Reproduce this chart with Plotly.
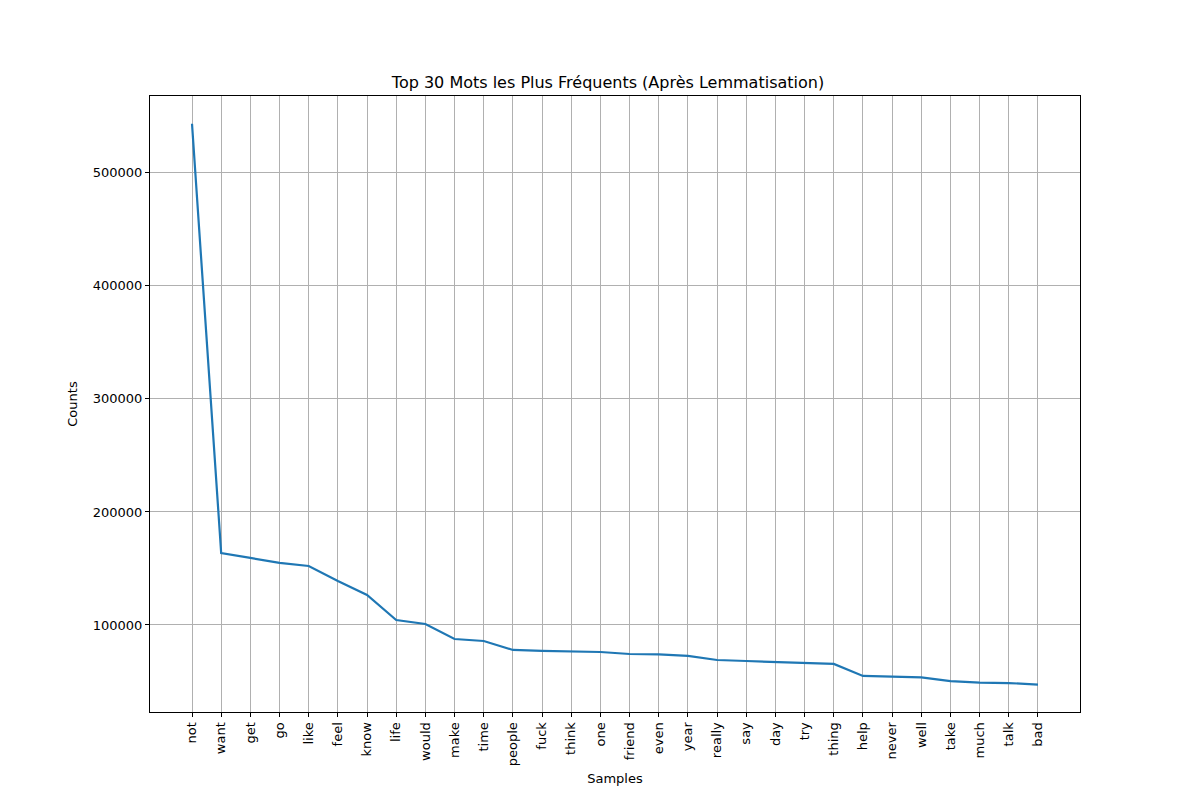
import plotly.graph_objects as go

words = ["not", "want", "get", "go", "like", "feel", "know", "life", "would", "make",
         "time", "people", "fuck", "think", "one", "friend", "even", "year", "really", "say",
         "day", "try", "thing", "help", "never", "well", "take", "much", "talk", "bad"]
counts = [543400, 163700, 159300, 154900, 152200, 138900, 126500, 104400, 100900, 87600,
          85800, 77900, 77000, 76500, 76100, 74300, 73900, 72600, 69000, 68100,
          67300, 66400, 65500, 54900, 54000, 53600, 50400, 49000, 48600, 47300]

positions = list(range(len(words)))

fig = go.Figure()
fig.add_trace(go.Scatter(
    x=positions,
    y=counts,
    mode="lines",
    line=dict(color="#1f77b4", width=2.2),
))

axis_common = dict(
    showline=True, linecolor="black", linewidth=1, mirror=True,
    ticks="outside", ticklen=4, tickcolor="black",
    showgrid=True, gridcolor="#b0b0b0", gridwidth=1, zeroline=False,
    tickfont=dict(size=13, color="black"),
)

fig.update_layout(
    title=dict(text="Top 30 Mots les Plus Fréquents (Après Lemmatisation)",
               x=0.5, xanchor="center", y=0.9075, yanchor="middle",
               font=dict(size=16, color="black")),
    width=1200, height=800,
    plot_bgcolor="white", paper_bgcolor="white",
    font=dict(family="DejaVu Sans", color="black"),
    showlegend=False,
    margin=dict(l=142, r=128, t=88, b=96),
    xaxis=dict(axis_common, tickmode="array", tickvals=positions, ticktext=words,
               tickangle=-90, range=[-1.44, 30.44],
               title=dict(text="Samples", font=dict(size=13), standoff=8)),
    yaxis=dict(axis_common, tickmode="array",
               tickvals=[100000, 200000, 300000, 400000, 500000],
               ticktext=["100000", "200000", "300000", "400000", "500000"],
               range=[23000, 568000],
               title=dict(text="Counts", font=dict(size=13), standoff=12)),
)

fig.write_html("out.html")
